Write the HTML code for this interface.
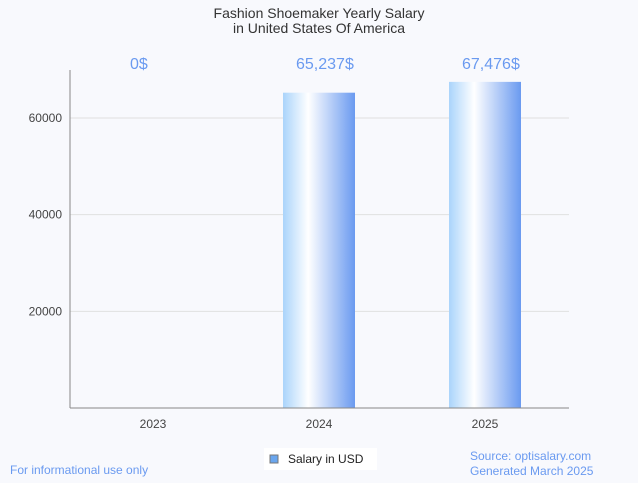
<!DOCTYPE html>
<html><head><meta charset="utf-8"><style>
body{margin:0;width:638px;height:478px;background:#f8f9fd;font-family:"Liberation Sans",sans-serif;overflow:hidden}
</style></head><body>
<svg id="c" width="638" height="478" xmlns="http://www.w3.org/2000/svg">
<defs><linearGradient id="g" x1="0" x2="1" y1="0" y2="0">
<stop offset="0" stop-color="#aad4fb"/><stop offset="0.35" stop-color="#ffffff"/><stop offset="1" stop-color="#6a9af0"/></linearGradient></defs>
<text x="319" y="18" text-anchor="middle" font-size="14" fill="#333">Fashion Shoemaker Yearly Salary</text>
<text x="319" y="33" text-anchor="middle" font-size="14" fill="#333">in United States Of America</text>
<g id="grid"></g><g id="bars"></g>
<line x1="70" y1="70" x2="70" y2="408" stroke="#888"/>
<line x1="70" y1="408" x2="569" y2="408" stroke="#888"/>
<rect x="264" y="448" width="113" height="22" fill="#fff"/>
<rect x="270" y="455" width="8" height="8" fill="#6aa6ee" stroke="#777"/>
<text x="288" y="463" font-size="12" fill="#222">Salary in USD</text>
<text x="10" y="474" font-size="12" fill="#6a9af0">For informational use only</text>
<text x="470" y="460" font-size="12" fill="#6a9af0">Source: optisalary.com</text>
<text x="470" y="475" font-size="12" fill="#6a9af0">Generated March 2025</text>
</svg>
<script>
const categories=["2023","2024","2025"];
const values=[0,65237,67476];
const labels=["0$","65,237$","67,476$"];
const yTicks=[20000,40000,60000];
const ns="http://www.w3.org/2000/svg";
const y=v=>408-v*(290/60000);
const xc=i=>153+i*166;
const grid=document.getElementById('grid'),bars=document.getElementById('bars');
function mk(t,a,p){const e=document.createElementNS(ns,t);for(const k in a)e.setAttribute(k,a[k]);p.appendChild(e);return e;}
yTicks.forEach(t=>{
 const l=mk('line',{x1:70,x2:569,y1:y(t),y2:y(t),stroke:'#e0e0e0'},grid);
 
 
 const tx=mk('text',{x:62,y:y(t)+4,'text-anchor':'end','font-size':12,fill:'#444'},grid);tx.textContent=t;
 
 
});
categories.forEach((c,i)=>{
 const r=mk('rect',{x:xc(i)-36,y:y(values[i]),width:72,height:408-y(values[i]),fill:'url(#g)'},bars);
 
 
 const t=mk('text',{x:xc(i),y:428,'text-anchor':'middle','font-size':12,fill:'#444'},bars);t.textContent=c;
 
 
 const v=mk('text',{x:xc(i)-23,y:69,'text-anchor':'start','font-size':16,fill:'#6a9af0'},bars);v.textContent=labels[i];
 
 
});
</script>
</body></html>
